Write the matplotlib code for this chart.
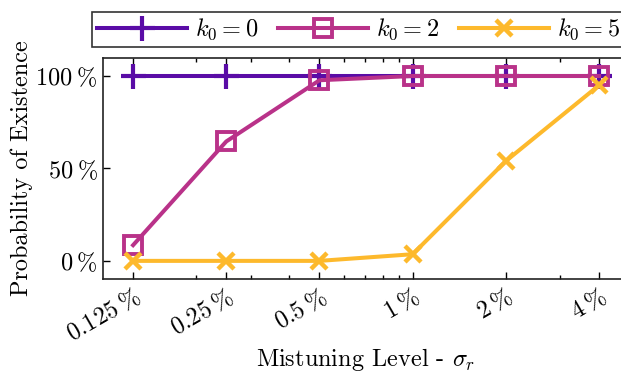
import matplotlib
matplotlib.use("Agg")
import matplotlib.pyplot as plt
import matplotlib.ticker as mticker
import numpy as np

matplotlib.rcParams.update({
    "font.family": "cmr10",
    "mathtext.fontset": "cm",
    "axes.formatter.use_mathtext": True,
    "font.size": 17.5,
})

levels = [0.125, 0.25, 0.5, 1, 2, 4]
level_labels = ["0.125", "0.25", "0.5", "1", "2", "4"]
p_k0_0 = [100, 100, 100, 100, 100, 100]
p_k0_2 = [8.5, 64.6, 97.7, 100, 100, 100]
p_k0_5 = [0, 0, 0, 3.6, 54, 95]

fig = plt.figure(figsize=(6.21, 3.71), dpi=100)
ax = fig.add_axes([0.166, 0.247, 0.847, 0.598])

ax.plot(levels, p_k0_0, color="#5a0ca6", lw=2.9, marker="+", ms=18, mew=3,
        label=r"$k_0 = 0$", zorder=3)
ax.plot(levels, p_k0_2, color="#b93289", lw=2.9, marker="s", ms=12.5, mew=2.8,
        mfc="none", label=r"$k_0 = 2$", zorder=4)
ax.plot(levels, p_k0_5, color="#fdb92c", lw=2.9, marker="x", ms=12, mew=3.2,
        label=r"$k_0 = 5$", zorder=5)

ax.set_xscale("log")
ax.set_xlim(0.1, 5)
ax.xaxis.set_major_locator(mticker.FixedLocator(levels))
ax.xaxis.set_major_formatter(mticker.FixedFormatter([r"$%s\:\%%$" % s for s in level_labels]))
ax.xaxis.set_minor_locator(mticker.LogLocator(base=10, subs=np.arange(2, 10)))
ax.xaxis.set_minor_formatter(mticker.NullFormatter())
for lab in ax.get_xticklabels():
    lab.set_rotation(30)
    lab.set_ha("right")
    lab.set_rotation_mode("anchor")

ax.set_ylim(-10, 110)
ax.set_yticks([0, 50, 100])
ax.set_yticklabels([r"$0\:\%$", r"$50\:\%$", r"$100\:\%$"])

ax.tick_params(which="both", direction="in", top=True, right=True, width=1)
ax.tick_params(which="major", length=5, pad=4)
ax.tick_params(which="minor", length=3)
for s in ax.spines.values():
    s.set_linewidth(1.2)
    s.set_color("#222222")

ax.set_ylabel("Probability of Existence")
ax.yaxis.set_label_coords(-0.133, 0.5)
ax.set_xlabel(r"Mistuning Level - $\sigma_r$", labelpad=0)

leg = fig.legend(loc="upper left", bbox_to_anchor=(0.148, 0.968), ncol=3,
                 frameon=True, fancybox=False, edgecolor="black",
                 handlelength=3.7, handletextpad=0.35, columnspacing=0.8,
                 borderpad=0.2, borderaxespad=0)
leg.get_frame().set_linewidth(1.2)

fig.savefig("out.png", dpi=100)
